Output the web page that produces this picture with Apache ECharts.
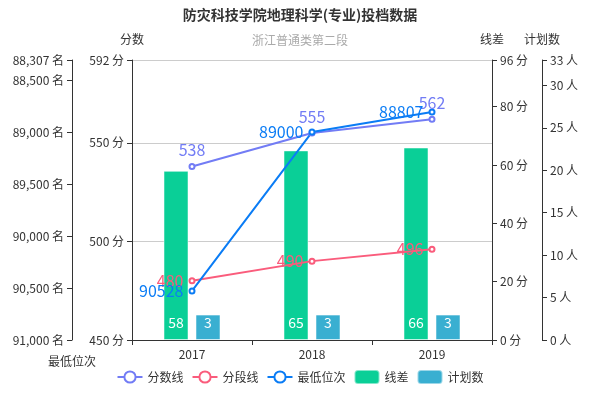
<!DOCTYPE html>
<html>
<head>
<meta charset="utf-8">
<script src="https://cdn.jsdelivr.net/npm/echarts@6/dist/echarts.min.js"></script>
<style>html,body{margin:0;padding:0;background:#fff}#c{width:600px;height:400px}</style>
</head>
<body>
<div id="c"></div>
<script>
var years = ['2017', '2018', '2019'];
var scoreLine = [538, 555, 562];
var segmentLine = [480, 490, 496];
var minRank = [90528, 89000, 88807];
var lineDiff = [58, 65, 66];
var planCount = [3, 3, 3];
var rankTicks = [88307, 88500, 89000, 89500, 90000, 90500, 91000];

var chart = echarts.init(document.getElementById('c'), null, {renderer: 'canvas'});
var fontFamily = '"Microsoft YaHei","Noto Sans CJK SC",sans-serif';
var axisLineStyle = {show: true, lineStyle: {color: '#333'}};
var labelStyle = {color: '#333', fontSize: 12};
var nameStyle = {color: '#333', fontSize: 12};
var option = {
  textStyle: {fontFamily: fontFamily},
  title: {
    text: '防灾科技学院地理科学(专业)投档数据',
    subtext: '浙江普通类第二段',
    left: 'center',
    top: 3,
    itemGap: 12,
    textStyle: {fontSize: 14, fontWeight: 'bold', color: '#333'},
    subtextStyle: {fontSize: 12, color: '#aaa'}
  },
  legend: {
    bottom: 10,
    itemWidth: 25,
    itemHeight: 14,
    textStyle: {color: '#333', fontSize: 12},
    data: ['分数线', '分段线', '最低位次', '线差', '计划数']
  },
  grid: {left: 132, right: 108, top: 60, bottom: 60},
  xAxis: {
    type: 'category',
    data: years,
    axisLine: axisLineStyle,
    axisTick: {show: true},
    axisLabel: labelStyle
  },
  yAxis: [
    {
      type: 'value', name: '分数', position: 'left',
      min: 450, max: 592, interval: 50,
      nameTextStyle: nameStyle,
      axisLine: axisLineStyle, axisTick: {show: true},
      axisLabel: {color: '#333', fontSize: 12, formatter: '{value} 分', showMaxLabel: true},
      splitLine: {show: true, lineStyle: {color: '#ccc'}}
    },
    {
      type: 'value', name: '最低位次', position: 'left', offset: 60,
      inverse: true, nameLocation: 'end',
      min: 88307, max: 91000,
      nameTextStyle: nameStyle,
      axisLine: axisLineStyle,
      axisTick: {show: true, customValues: rankTicks},
      axisLabel: {color: '#333', fontSize: 12, customValues: rankTicks, formatter: function (v) { return v.toLocaleString('en-US') + ' 名'; }},
      splitLine: {show: false}
    },
    {
      type: 'value', name: '线差', position: 'right',
      min: 0, max: 96, interval: 20,
      nameTextStyle: nameStyle,
      axisLine: axisLineStyle, axisTick: {show: true},
      axisLabel: {color: '#333', fontSize: 12, formatter: '{value} 分'},
      splitLine: {show: false}
    },
    {
      type: 'value', name: '计划数', position: 'right', offset: 50,
      min: 0, max: 33, interval: 5,
      nameTextStyle: nameStyle,
      axisLine: axisLineStyle, axisTick: {show: true},
      axisLabel: {color: '#333', fontSize: 12, formatter: '{value} 人'},
      splitLine: {show: false}
    }
  ],
  series: [
    {
      name: '分数线', type: 'line', yAxisIndex: 0, data: scoreLine,
      color: '#727cf5', symbol: 'emptyCircle', symbolSize: 5,
      lineStyle: {width: 2},
      label: {show: true, position: 'top', fontSize: 16, color: '#727cf5'}
    },
    {
      name: '分段线', type: 'line', yAxisIndex: 0, data: segmentLine,
      color: '#fa5c7c', symbol: 'emptyCircle', symbolSize: 5,
      lineStyle: {width: 2},
      label: {show: true, position: 'left', fontSize: 16, color: '#fa5c7c'}
    },
    {
      name: '最低位次', type: 'line', yAxisIndex: 1, data: minRank,
      color: '#0a7cf5', symbol: 'emptyCircle', symbolSize: 5,
      lineStyle: {width: 2},
      label: {show: true, position: 'left', fontSize: 16, color: '#0a7cf5'}
    },
    {
      name: '线差', type: 'bar', yAxisIndex: 2, data: lineDiff,
      color: '#0acf97', barWidth: 25, barGap: '28%',
      itemStyle: {borderColor: 'rgba(255,255,255,0.5)', borderWidth: 1},
      label: {show: true, position: 'insideBottom', color: '#fff', fontSize: 14, distance: 10}
    },
    {
      name: '计划数', type: 'bar', yAxisIndex: 3, data: planCount,
      color: '#39afd1', barWidth: 25, barGap: '28%',
      itemStyle: {borderColor: 'rgba(255,255,255,0.5)', borderWidth: 1},
      label: {show: true, position: 'insideBottom', color: '#fff', fontSize: 14, distance: 10}
    }
  ]
};
chart.setOption(option);
</script>
</body>
</html>
